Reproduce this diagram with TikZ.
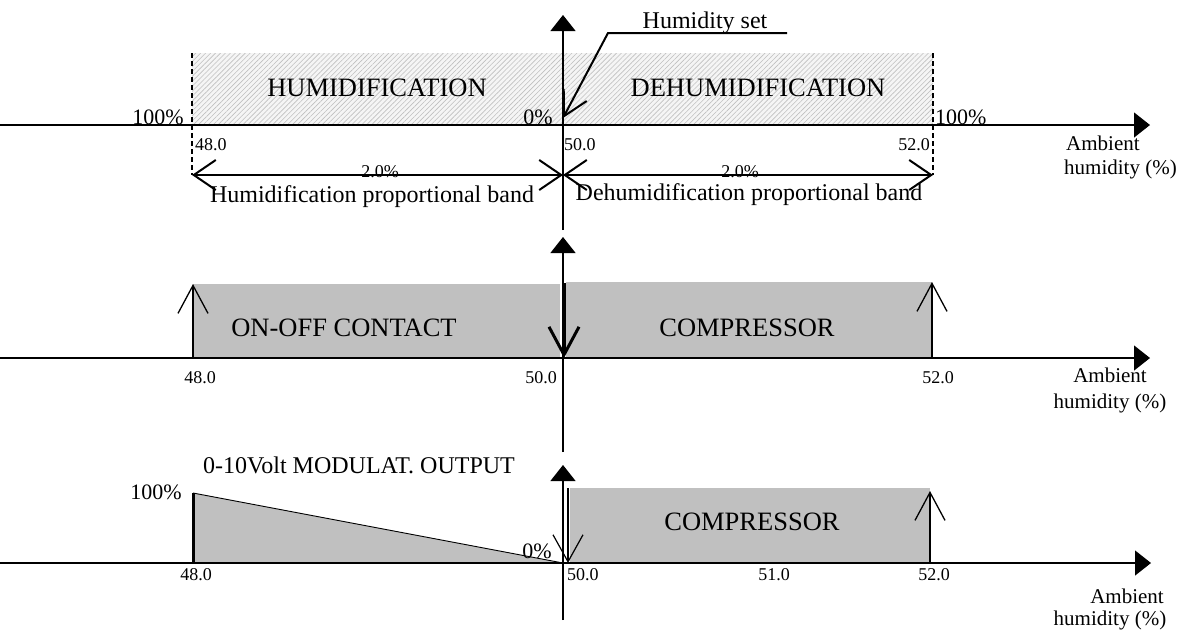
\documentclass[tikz,border=0pt]{standalone}
\usepackage{fontspec}
\setmainfont{Liberation Serif}
\usetikzlibrary{arrows.meta,patterns.meta}
\definecolor{boxgray}{RGB}{192,192,192}
\begin{document}
\begin{tikzpicture}[x=1pt,y=-1pt,
  big/.style={font=\fontsize{26.5}{30}\selectfont,inner sep=0pt},
  mid/.style={font=\fontsize{24}{28}\selectfont,inner sep=0pt},
  num/.style={font=\fontsize{18}{21}\selectfont,inner sep=0pt},
  pct/.style={font=\fontsize{22}{26}\selectfont,inner sep=0pt},
  amb/.style={font=\fontsize{21}{24}\selectfont,inner sep=0pt},
  axis/.style={line width=1.2pt,-{Triangle[length=16pt,width=25pt]}},
  openup/.style={line width=1.3pt,-{Straight Barb[length=28pt,width=30pt]}},
  thickdown/.style={line width=3pt,-{Straight Barb[length=28pt,width=30pt]}},
  dimarrow/.style={line width=2pt,{Straight Barb[length=22pt,width=30pt]}-{Straight Barb[length=22pt,width=30pt]}},
  setarrow/.style={line width=2pt,-{Straight Barb[length=24pt,width=26pt]}},
  bandedge/.style={line width=1.8pt,dash pattern=on 5pt off 3pt}
]
\useasboundingbox (0,0) rectangle (1179,630);
\fill[white] (0,0) rectangle (1179,630);

% ---------- coordinates ----------
% panel 1
\coordinate (a1s) at (0,125);   \coordinate (a1e) at (1150,125);
\coordinate (v1s) at (563,230); \coordinate (v1e) at (563,15);
\coordinate (d48t) at (192,53); \coordinate (d48b) at (192,175);
\coordinate (d52t) at (933,53); \coordinate (d52b) at (933,175);
\coordinate (b48) at (192,175); \coordinate (b50) at (563,175); \coordinate (b52) at (933,175);
\coordinate (hsR) at (787,33); \coordinate (hsK) at (608,33); \coordinate (hsT) at (563,118);
% panel 2
\coordinate (a2s) at (0,358);   \coordinate (a2e) at (1150,358);
\coordinate (v2s) at (563,452); \coordinate (v2e) at (563,237);
\coordinate (u48b) at (193,358); \coordinate (u48t) at (193,284);
\coordinate (u52b) at (932,358); \coordinate (u52t) at (932,282);
\coordinate (dnT) at (564,283);  \coordinate (dnB) at (564,358);
% panel 3
\coordinate (a3s) at (0,563);   \coordinate (a3e) at (1151,563);
\coordinate (v3s) at (563,620); \coordinate (v3e) at (563,465);
\coordinate (r100) at (193,493); \coordinate (r48) at (193,563); \coordinate (r0) at (563,563);
\coordinate (c3T) at (568,488); \coordinate (c3B) at (568,563);
\coordinate (c3uB) at (930,563); \coordinate (c3uT) at (930,491);

% ---------- fills ----------
\fill[gray!8] (192,53) rectangle (933,125);
\fill[pattern={Lines[angle=45,distance=3.5pt,line width=0.6pt]},pattern color=gray!50] (192,53) rectangle (933,125);
\fill[boxgray] (193,284) rectangle (560,358);
\fill[boxgray] (566,282) rectangle (932,358);
\fill[boxgray] (r100) -- (r48) -- (r0) -- cycle;
\fill[boxgray] (570,488) rectangle (930,563);

% ---------- panel 1 ----------
\draw[axis] (a1s) -- (a1e);
\draw[axis] (v1s) -- (v1e);
\draw[bandedge] (d48t) -- (d48b);
\draw[bandedge] (d52t) -- (d52b);
\draw[dimarrow] (b48) -- (b50);
\draw[dimarrow] (b50) -- (b52);
\draw[setarrow,line join=miter] (hsR) -- (hsK) -- (hsT);

\node[big,anchor=base] (thum) at (377,96) {HUMIDIFICATION};
\node[big,anchor=base] (tdeh) at (758,96) {DEHUMIDIFICATION};
\node[pct,anchor=base east] (p1a) at (184,124) {100\%};
\node[pct,anchor=base east] (p1b) at (553,124) {0\%};
\node[pct,anchor=base west] (p1c) at (935,124) {100\%};
\node[num,anchor=base west] (n1a) at (195,150) {48.0};
\node[num,anchor=base west] (n1b) at (564,150) {50.0};
\node[num,anchor=base east] (n1c) at (930,150) {52.0};
\node[num,anchor=base] (w1a) at (380,177) {2.0\%};
\node[num,anchor=base] (w1b) at (740,177) {2.0\%};
\node[mid,anchor=base] (hb) at (372,202) {Humidification proportional band};
\node[mid,anchor=base] (db) at (749,200) {Dehumidification proportional band};
\node[mid,anchor=base] (hset) at (705,28) {Humidity set};
\node[amb,anchor=base west] (amb1a) at (1066,150) {Ambient};
\node[amb,anchor=base west] (amb1b) at (1064,174) {humidity (\%)};

% ---------- panel 2 ----------
\draw[axis] (a2s) -- (a2e);
\draw[axis] (v2s) -- (v2e);
\draw[openup] (u48b) -- (u48t);
\draw[openup] (u52b) -- (u52t);
\draw[thickdown] (dnT) -- (dnB);
\node[big,anchor=base] (onoff) at (344,336) {ON-OFF CONTACT};
\node[big,anchor=base] (comp2) at (747,336) {COMPRESSOR};
\node[num,anchor=base] (n2a) at (200,383) {48.0};
\node[num,anchor=base] (n2b) at (541,383) {50.0};
\node[num,anchor=base] (n2c) at (938,383) {52.0};
\node[amb,anchor=base] (amb2a) at (1110,382) {Ambient};
\node[amb,anchor=base] (amb2b) at (1110,408) {humidity (\%)};

% ---------- panel 3 ----------
\draw[axis] (a3s) -- (a3e);
\draw[axis] (v3s) -- (v3e);
\draw[line width=0.9pt] (r100) -- (r0);
\draw[line width=3pt] (r100) -- (r48);
\draw[line width=1.2pt,-{Straight Barb[length=27pt,width=30pt]}] (c3T) -- (c3B);
\draw[openup] (c3uB) -- (c3uT);
\node[pct,anchor=base east] (p3a) at (182,499) {100\%};
\node[mid,anchor=base] (mod) at (359,473) {0-10Volt MODULAT. OUTPUT};
\node[pct,anchor=base east] (p3b) at (552,558) {0\%};
\node[big,anchor=base] (comp3) at (752,530) {COMPRESSOR};
\node[num,anchor=base] (n3a) at (196,580) {48.0};
\node[num,anchor=base west] (n3b) at (567,580) {50.0};
\node[num,anchor=base] (n3c) at (774,580) {51.0};
\node[num,anchor=base] (n3d) at (934,580) {52.0};
\node[amb,anchor=base] (amb3a) at (1127,603) {Ambient};
\node[amb,anchor=base] (amb3b) at (1110,625) {humidity (\%)};
\end{tikzpicture}
\end{document}
